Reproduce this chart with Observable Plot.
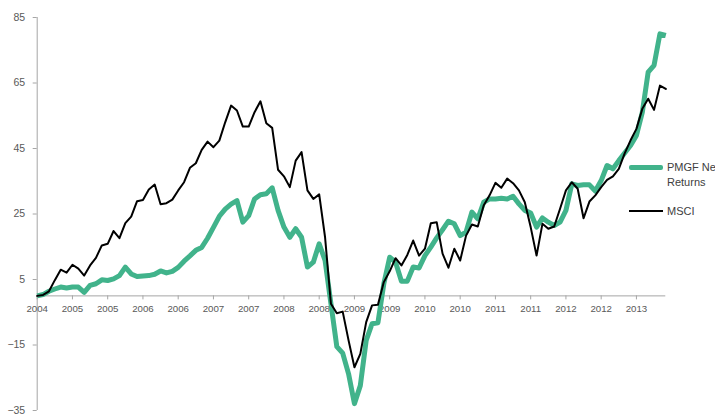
<!DOCTYPE html>
<html>
<head>
<meta charset="utf-8">
<script src="https://cdn.jsdelivr.net/npm/d3@7"></script>
<script src="https://cdn.jsdelivr.net/npm/@observablehq/plot@0.6"></script>
<style>
  html, body { margin: 0; padding: 0; background: #fff; overflow: hidden; width: 715px; height: 414px; }
  #wrap { position: relative; width: 715px; height: 414px; font-family: "Liberation Sans", Arial, sans-serif; }
  #chart svg { position: absolute; left: 0; top: 0; }
  .leg { position: absolute; left: 629px; white-space: nowrap; font-size: 11px; color: #404040; }
  .sw { position: absolute; left: 0; width: 34px; }
  .lt { position: absolute; left: 38px; line-height: 15px; }
</style>
</head>
<body>
<div id="wrap">
  <div id="chart"></div>
  <div class="leg" style="top:160px;">
    <div class="sw" style="top:5px;height:5px;background:#41b38b;border-radius:2px;"></div>
    <div class="lt" style="top:0px;">PMGF Net<br>Returns</div>
  </div>
  <div class="leg" style="top:204px;">
    <div class="sw" style="top:6px;height:2px;background:#000;"></div>
    <div class="lt" style="top:0px;">MSCI</div>
  </div>
</div>
<script>
// Monthly observations (index 0 = first month of the series)
const msci = [
  0.0,0.3,1.4,4.8,8.0,7.1,9.5,8.3,6.2,9.3,
  11.6,15.4,15.9,19.8,17.6,22.2,24.2,28.9,29.3,32.5,
  34.0,28.0,28.3,29.4,32.2,34.7,39.1,40.5,44.6,47.1,
  45.4,47.4,53.0,58.1,56.6,51.7,51.7,56.1,59.4,52.7,
  51.3,38.5,36.5,33.2,41.3,43.9,32.2,29.6,31.0,17.9,
  -2.4,-5.3,-4.8,-13.6,-21.8,-17.7,-8.0,-2.9,-2.7,4.2,
  7.5,11.5,9.3,12.5,16.9,12.3,14.4,22.2,22.5,12.9,
  8.6,14.4,10.8,18.4,21.8,21.2,27.6,30.7,34.5,33.0,
  35.8,34.4,32.2,28.6,21.0,12.3,22.0,20.5,21.2,26.6,
  32.2,34.7,32.7,23.7,28.8,30.7,33.2,35.4,36.5,38.8,
  43.5,47.5,51.0,57.1,60.2,56.8,64.2,63.2
];
const pmgf = [
  0.0,0.4,1.4,2.1,2.7,2.4,2.7,2.7,1.1,3.2,
  3.7,4.9,4.7,5.2,6.2,8.8,6.7,5.9,6.1,6.2,
  6.6,7.6,7.0,7.5,8.7,10.6,12.2,13.9,14.8,17.6,
  20.9,24.3,26.5,28.0,29.1,22.5,24.5,29.6,30.9,31.2,
  33.0,26.1,21.0,17.9,20.5,17.9,8.8,10.3,15.9,10.8,
  -2.4,-15.5,-17.5,-23.8,-32.9,-27.4,-13.6,-8.5,-8.2,3.7,
  11.8,10.3,4.5,4.5,8.8,8.5,12.3,14.9,17.7,20.2,
  22.8,22.0,18.4,19.5,25.6,23.5,28.6,29.6,29.6,29.8,
  29.6,30.4,28.1,26.1,25.3,21.0,23.8,22.5,21.5,22.5,
  26.1,34.2,33.7,33.9,33.9,32.0,35.2,39.8,38.8,41.3,
  43.6,45.9,49.0,56.0,68.3,70.4,80.0,79.5
];
const xTickLabels = ["2004","2005","2005","2006","2006","2007","2007","2008","2008",
                     "2009","2009","2010","2010","2011","2011","2012","2012","2013"];
const monthsPerTick = 6;
const yTicks = [-35, -15, 5, 25, 45, 65, 85];

const msciData = msci.map((v, i) => ({i, v}));
const pmgfData = pmgf.map((v, i) => ({i, v}));
const xTicks = xTickLabels.map((label, k) => ({i: k * monthsPerTick, label}));

const axisGray = "#a6a6a6";
const textGray = "#595959";

const chart = Plot.plot({
  width: 715,
  height: 414,
  marginLeft: 36.7,
  marginRight: 49.7,
  marginTop: 17,
  marginBottom: 4,
  style: {fontFamily: "Liberation Sans, Arial, sans-serif", fontSize: "10.5px", background: "transparent", overflow: "visible"},
  x: {domain: [0, msci.length - 1], axis: null},
  y: {domain: [-35, 85], axis: null},
  marks: [
    Plot.axisY({ticks: yTicks, tickSize: 4, tickPadding: 8, stroke: axisGray, fill: textGray, label: null}),
    Plot.ruleX([0], {stroke: axisGray, strokeWidth: 1}),
    Plot.ruleY([0], {stroke: axisGray, strokeWidth: 1}),
    Plot.ruleX(xTicks, {x: "i", y1: 0, y2: 0, insetBottom: -4, stroke: axisGray}),
    Plot.text(xTicks, {x: "i", y: 0, text: "label", dy: 13, fill: textGray, fontSize: 9.7}),
    Plot.line(pmgfData, {x: "i", y: "v", stroke: "#41b38b", strokeWidth: 5, strokeLinejoin: "round", strokeLinecap: "butt"}),
    Plot.line(msciData, {x: "i", y: "v", stroke: "#000", strokeWidth: 2, strokeLinejoin: "round"})
  ]
});
document.getElementById("chart").appendChild(chart);
</script>
</body>
</html>
